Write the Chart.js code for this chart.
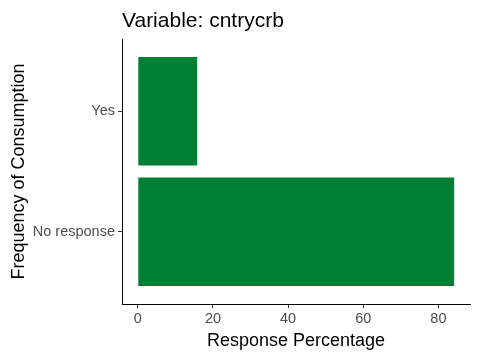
<!DOCTYPE html>
<html>
<head>
<meta charset="utf-8">
<script src="https://cdn.jsdelivr.net/npm/chart.js@4"></script>
<style>
  html, body { margin: 0; padding: 0; background: #fff; }
  #wrap { width: 480px; height: 360px; }
</style>
</head>
<body>
<div id="wrap"><canvas id="chart" width="480" height="360"></canvas></div>
<script>
// data
const categories = ['No response', 'Yes'];
const percentages = [84.2, 15.8];
const xTicks = [0, 20, 40, 60, 80];
const titleText = 'Variable: cntrycrb';

const fontFam = '"Liberation Sans", Arial, sans-serif';

// title drawn at the left edge of the plot panel (like ggplot)
const panelTitle = {
  id: 'panelTitle',
  afterDraw(chart) {
    const ctx = chart.ctx;
    ctx.save();
    ctx.font = '21px ' + fontFam;
    ctx.fillStyle = '#000';
    ctx.textBaseline = 'alphabetic';
    ctx.textAlign = 'left';
    ctx.fillText(titleText, chart.chartArea.left, 27);
    ctx.restore();
  }
};

const ctx = document.getElementById('chart');
new Chart(ctx, {
  type: 'bar',
  data: {
    datasets: [{
      data: percentages.map((v, i) => ({ x: v, y: i + 1 })),
      backgroundColor: '#007F33',
      borderWidth: 0,
      barPercentage: 0.9,
      categoryPercentage: 1.0
    }]
  },
  options: {
    indexAxis: 'y',
    responsive: false,
    animation: false,
    layout: { padding: { top: 39, right: 10, bottom: 0, left: 0 } },
    plugins: { legend: { display: false }, tooltip: { enabled: false } },
    scales: {
      x: {
        type: 'linear',
        min: -4.21,
        max: 88.41,
        afterBuildTicks: axis => { axis.ticks = xTicks.map(v => ({ value: v })); },
        afterFit: axis => { axis.height = 56; },
        grid: { display: true, drawOnChartArea: false, drawTicks: true, tickLength: 4, color: '#333' },
        border: { display: true, color: '#000', width: 1 },
        ticks: { color: '#4D4D4D', font: { family: fontFam, size: 14.5 }, padding: 2, maxRotation: 0 },
        title: { display: true, text: 'Response Percentage', color: '#000', font: { family: fontFam, size: 18 }, padding: { top: 0, bottom: 8 } }
      },
      y: {
        type: 'linear',
        min: 0.4,
        max: 2.6,
        offset: false,
        afterBuildTicks: axis => { axis.ticks = categories.map((c, i) => ({ value: i + 1 })); },
        afterFit: axis => { axis.width = 122; },
        grid: { display: true, offset: false, drawOnChartArea: false, drawTicks: true, tickLength: 4, color: '#333' },
        border: { display: true, color: '#000', width: 1 },
        ticks: {
          color: '#4D4D4D', font: { family: fontFam, size: 14.5 }, padding: 3,
          callback: v => categories[Math.round(v) - 1]
        },
        title: { display: true, text: 'Frequency of Consumption', color: '#000', font: { family: fontFam, size: 18 }, padding: { top: 8, bottom: 0 } }
      }
    }
  },
  plugins: [panelTitle]
});
</script>
</body>
</html>
